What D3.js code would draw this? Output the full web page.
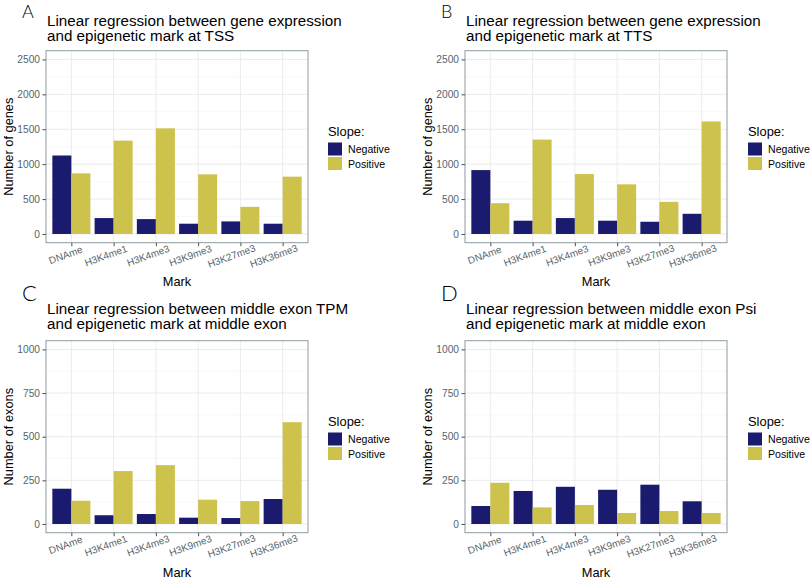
<!DOCTYPE html>
<html>
<head>
<meta charset="utf-8">
<script src="https://cdn.jsdelivr.net/npm/d3@7"></script>
<style>
  body { margin: 0; background: #fff; }
  svg { display: block; font-family: "Liberation Sans", Arial, sans-serif; }
</style>
</head>
<body>
<svg id="chart" width="810" height="580"></svg>
<script>
// categories and series
const marks = ['DNAme', 'H3K4me1', 'H3K4me3', 'H3K9me3', 'H3K27me3', 'H3K36me3'];
const slopes = ['Negative', 'Positive'];

// A: TSS (genes)
const tssNegative = [1124, 228, 213, 147, 180, 147];
const tssPositive = [868, 1337, 1513, 854, 389, 821];
// B: TTS (genes)
const ttsNegative = [915, 190, 228, 190, 175, 289];
const ttsPositive = [441, 1352, 858, 711, 460, 1612];
// C: middle exon TPM (exons)
const tpmNegative = [202, 50, 57, 36, 34, 143];
const tpmPositive = [133, 303, 337, 139, 131, 583];
// D: middle exon Psi (exons)
const psiNegative = [103, 189, 213, 196, 225, 130];
const psiPositive = [236, 95, 109, 63, 74, 63];

const geneTicks = [0, 500, 1000, 1500, 2000, 2500];
const exonTicks = [0, 250, 500, 750, 1000];

const colors = { Negative: '#1a1b6e', Positive: '#cdc24b' };

const panels = [
  { letter: 'A', title: ['Linear regression between gene expression', 'and epigenetic mark at TSS'],
    neg: tssNegative, pos: tssPositive, ticks: geneTicks, yLabel: 'Number of genes', col: 0, row: 0 },
  { letter: 'B', title: ['Linear regression between gene expression', 'and epigenetic mark at TTS'],
    neg: ttsNegative, pos: ttsPositive, ticks: geneTicks, yLabel: 'Number of genes', col: 1, row: 0 },
  { letter: 'C', title: ['Linear regression between middle exon TPM', 'and epigenetic mark at middle exon'],
    neg: tpmNegative, pos: tpmPositive, ticks: exonTicks, yLabel: 'Number of exons', col: 0, row: 1 },
  { letter: 'D', title: ['Linear regression between middle exon Psi', 'and epigenetic mark at middle exon'],
    neg: psiNegative, pos: psiPositive, ticks: exonTicks, yLabel: 'Number of exons', col: 1, row: 1 }
];

const svg = d3.select('#chart');
const axisGrey = '#56646b';

function drawPanel(p) {
  const ox = p.col * 419;
  const oy = p.row * 290;
  const g = svg.append('g').attr('transform', `translate(${ox},${oy})`);

  const plot = { left: 46, right: 308, top: 50.7, bottom: 242.7 };

  // panel letter
  g.append('text')
    .attr('x', 22)
    .attr('y', p.row === 0 ? 18 : 10.5)
    .attr('font-family', 'Lato, "DejaVu Sans", sans-serif')
    .attr('font-weight', 300)
    .attr('font-size', p.row === 0 ? 18 : 22)
    .text(p.letter);

  // title
  g.append('text')
    .attr('font-size', 15.2)
    .attr('fill', '#000')
    .selectAll('tspan')
    .data(p.title)
    .enter().append('tspan')
    .attr('x', 47)
    .attr('y', (d, i) => (p.row === 0 ? 26 : 24) + i * 15.3)
    .text(d => d);

  const yMax = d3.max(p.ticks);
  const pad = yMax * 0.05;
  const y = d3.scaleLinear().domain([-pad, yMax + pad]).range([plot.bottom, plot.top]);
  // discrete scale with ggplot-like 0.6 expansion on each side
  const step = (plot.right - plot.left) / (marks.length - 1 + 1.2);
  const x = d3.scalePoint().domain(marks)
    .range([plot.left + 0.6 * step, plot.right - 0.6 * step]);
  const barW = step * 0.9;
  const xSub = d3.scaleBand().domain(slopes).range([-barW / 2, barW / 2]).padding(0);

  // minor grid
  const minor = d3.pairs(p.ticks).map(([a, b]) => (a + b) / 2);
  g.append('g').selectAll('line').data(minor).enter().append('line')
    .attr('x1', plot.left).attr('x2', plot.right)
    .attr('y1', d => y(d)).attr('y2', d => y(d))
    .attr('stroke', '#f3f3f3').attr('stroke-width', 0.6);
  // major grid
  g.append('g').selectAll('line').data(p.ticks).enter().append('line')
    .attr('x1', plot.left).attr('x2', plot.right)
    .attr('y1', d => y(d)).attr('y2', d => y(d))
    .attr('stroke', '#ebebeb').attr('stroke-width', 1);
  g.append('g').selectAll('line').data(marks).enter().append('line')
    .attr('x1', d => x(d)).attr('x2', d => x(d))
    .attr('y1', plot.top).attr('y2', plot.bottom)
    .attr('stroke', '#ebebeb').attr('stroke-width', 1);

  // bars
  const rows = marks.map((m, i) => ({ mark: m, Negative: p.neg[i], Positive: p.pos[i] }));
  g.append('g').selectAll('g').data(rows).enter().append('g')
    .attr('transform', d => `translate(${x(d.mark)},0)`)
    .selectAll('rect')
    .data(d => slopes.map(s => ({ slope: s, value: d[s] })))
    .enter().append('rect')
    .attr('x', d => xSub(d.slope))
    .attr('width', xSub.bandwidth())
    .attr('y', d => y(d.value))
    .attr('height', d => y(0) - y(d.value))
    .attr('fill', d => colors[d.slope]);

  // panel border
  g.append('rect')
    .attr('x', plot.left).attr('y', plot.top)
    .attr('width', plot.right - plot.left).attr('height', plot.bottom - plot.top)
    .attr('fill', 'none').attr('stroke', '#8e9ca1').attr('stroke-width', 1);

  // y axis
  const yAxis = d3.axisLeft(y).tickValues(p.ticks).tickFormat(d3.format('d'))
    .tickSize(3.5).tickPadding(2.5);
  const ya = g.append('g').attr('transform', `translate(${plot.left},0)`).call(yAxis);
  ya.select('.domain').remove();
  ya.selectAll('.tick line').attr('stroke', '#4d4d4d');
  ya.selectAll('.tick text').attr('fill', axisGrey).attr('font-size', 10.2)
    .attr('font-family', '"Liberation Sans", Arial, sans-serif');

  // x axis
  const xAxis = d3.axisBottom(x).tickSize(3.5).tickFormat('');
  const xa = g.append('g').attr('transform', `translate(0,${plot.bottom})`).call(xAxis);
  xa.select('.domain').remove();
  xa.selectAll('.tick line').attr('stroke', '#4d4d4d');

  // rotated x labels
  g.append('g').selectAll('text').data(marks).enter().append('text')
    .attr('font-size', 10)
    .attr('fill', axisGrey)
    .attr('dy', '0.78em')
    .text(d => d)
    .each(function(d) {
      const w = this.getComputedTextLength();
      d3.select(this)
        .attr('x', -0.72 * w)
        .attr('y', 0)
        .attr('transform', `translate(${x(d)},${plot.bottom + 5.5}) rotate(-20)`);
    });

  // axis titles
  g.append('text')
    .attr('x', (plot.left + plot.right) / 2)
    .attr('y', p.row === 0 ? 286 : 286.5)
    .attr('text-anchor', 'middle')
    .attr('font-size', 12.8)
    .text('Mark');

  g.append('text')
    .attr('transform', `translate(${p.col === 0 ? 12.8 : 13.3},${(plot.top + plot.bottom) / 2}) rotate(-90)`)
    .attr('text-anchor', 'middle')
    .attr('font-size', 12.8)
    .text(p.yLabel);

  // legend
  const lg = g.append('g').attr('transform', `translate(${p.col === 0 ? 328 : 329},0)`);
  lg.append('text').attr('x', 0).attr('y', 136).attr('font-size', 12.9).text('Slope:');
  const items = lg.selectAll('g.item').data(slopes).enter().append('g')
    .attr('class', 'item')
    .attr('transform', (d, i) => `translate(0,${142.5 + i * 14.5})`);
  items.append('rect')
    .attr('width', 14).attr('height', 13)
    .attr('fill', d => colors[d]);
  items.append('text')
    .attr('x', 20).attr('y', 10.5)
    .attr('font-size', 10.6)
    .text(d => d);
}

panels.forEach(drawPanel);
</script>
</body>
</html>
